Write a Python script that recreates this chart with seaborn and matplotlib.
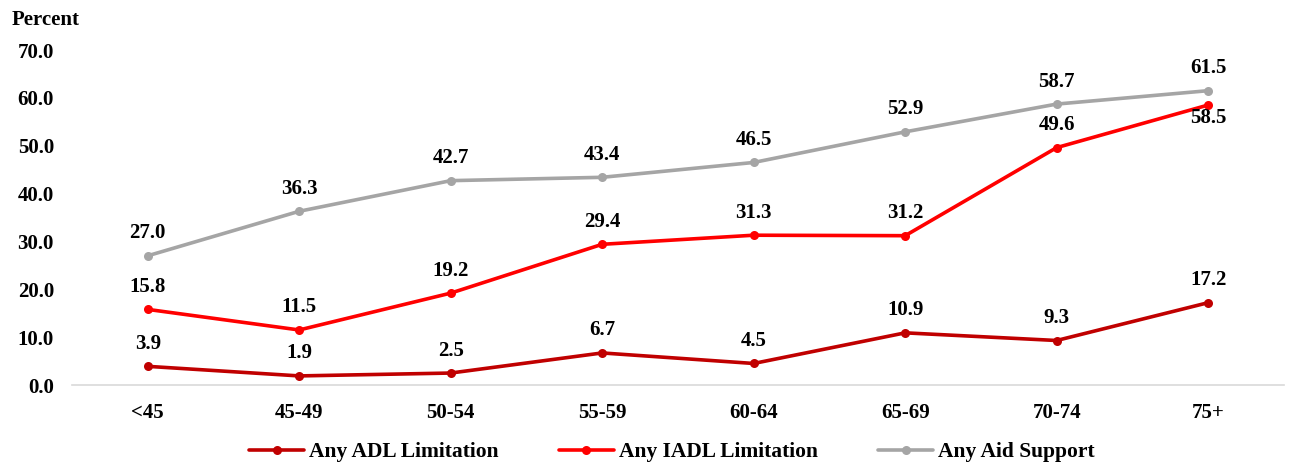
import pandas as pd
import matplotlib.pyplot as plt
import seaborn as sns

# ==============================
# DATA
# ==============================

age_groups = ['<45', '45-49', '50-54', '55-59', '60-64', '65-69', '70-74', '75+']
adl = [3.9, 1.9, 2.5, 6.7, 4.5, 10.9, 9.3, 17.2]
iadl = [15.8, 11.5, 19.2, 29.4, 31.3, 31.2, 49.6, 58.5]
aid = [27.0, 36.3, 42.7, 43.4, 46.5, 52.9, 58.7, 61.5]

series_names = ['Any ADL Limitation', 'Any IADL Limitation', 'Any Aid Support']
colors = ['#C00000', '#FF0000', '#A5A5A5']

rows = []
for name, vals in zip(series_names, [adl, iadl, aid]):
    for i, (g, v) in enumerate(zip(age_groups, vals)):
        rows.append({'pos': i, 'age': g, 'series': name, 'value': v})
df = pd.DataFrame(rows)

# ==============================
# PLOT
# ==============================

sns.set_style("white")
plt.rcParams['font.family'] = ['Liberation Serif', 'DejaVu Serif']
plt.rcParams['font.weight'] = 'bold'
plt.rcParams['text.color'] = 'black'
plt.rcParams['xtick.color'] = 'black'
plt.rcParams['ytick.color'] = 'black'

FS = 15

fig = plt.figure(figsize=(12.92, 4.66), dpi=100)
ax = fig.add_axes([0.0557, 0.1738, 0.938, 0.7189])

sns.lineplot(data=df, x='pos', y='value', hue='series', hue_order=series_names,
             palette=colors, marker='o', markersize=6.5, markeredgewidth=0,
             linewidth=2.6, ax=ax)

# data labels
for name, vals in zip(series_names, [adl, iadl, aid]):
    for i, v in enumerate(vals):
        dy, va = 9, 'bottom'
        if name == 'Any IADL Limitation' and i == 7:
            dy, va = -2, 'top'
        ax.annotate(f'{v:.1f}', (i, v), xytext=(0, dy), textcoords='offset points',
                    ha='center', va=va, fontsize=FS, fontweight='bold', color='black')

ax.set_xlim(-0.5, 7.5)
ax.set_ylim(0, 70)
ax.set_xticks(range(len(age_groups)))
ax.set_xticklabels(age_groups)
ax.set_yticks([0, 10, 20, 30, 40, 50, 60, 70])
ax.set_yticklabels([f'{t:.1f}' for t in range(0, 80, 10)])
ax.tick_params(axis='both', labelsize=FS, length=0)
ax.tick_params(axis='x', pad=13)
ax.tick_params(axis='y', pad=13)
for lbl in ax.get_xticklabels() + ax.get_yticklabels():
    lbl.set_fontweight('bold')
ax.set_xlabel('')
ax.set_ylabel('')
for s in ['top', 'right', 'left']:
    ax.spines[s].set_visible(False)
ax.spines['bottom'].set_color('#D9D9D9')
ax.spines['bottom'].set_linewidth(1.2)

fig.text(0.009, 0.957, 'Percent', fontsize=FS, fontweight='bold', ha='left', va='center')

leg = ax.legend(loc='center', bbox_to_anchor=(0.495, -0.2), ncol=3, frameon=False,
                fontsize=15.5, handlelength=2.55, columnspacing=2.8, handletextpad=0.23)
for t in leg.get_texts():
    t.set_fontweight('bold')

fig.savefig('out.png', dpi=100)
